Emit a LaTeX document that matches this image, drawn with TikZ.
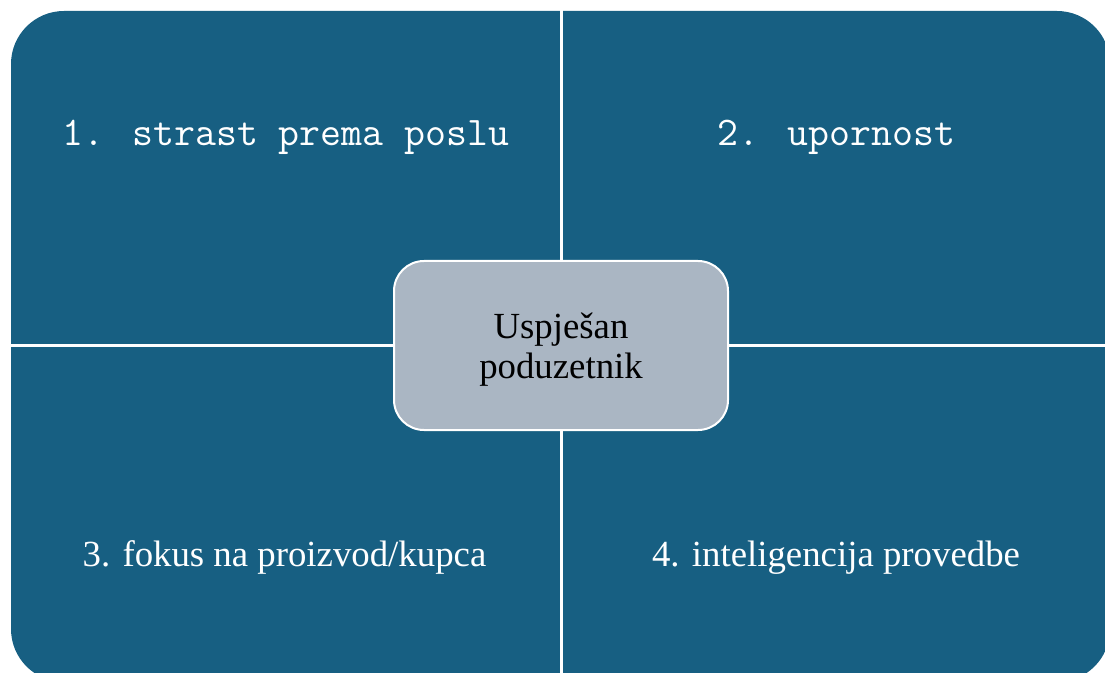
\documentclass[tikz,border=0pt]{standalone}
\usepackage{fontspec}
\setmainfont{Liberation Serif}
\definecolor{quadblue}{RGB}{23,95,130}
\definecolor{centerfill}{RGB}{170,182,195}
\begin{document}
\begin{tikzpicture}[x=0.75pt,y=-0.75pt,
  quad/.style={fill=quadblue},
  gap/.style={draw=white,line width=2.25pt},
  monotext/.style={text=white,font=\ttfamily\fontsize{30.5}{33}\selectfont,anchor=base,inner sep=0pt},
  serifqtext/.style={text=white,font=\fontsize{27.6}{30}\selectfont,anchor=base,inner sep=0pt},
  centerbox/.style={fill=centerfill,draw=white,line width=1.5pt,rounded corners=22.5pt,
    minimum width=250.5pt,minimum height=126.75pt,inner sep=0pt},
  centertext/.style={text=black,font=\fontsize{27.6}{30}\selectfont,align=center,inner sep=0pt}
]
\useasboundingbox (0,0) rectangle (1105,673);
% outer shape
\fill[quad,rounded corners=39.75pt] (11,11) rectangle (1110,682);
% dividers
\coordinate (vt) at (561,0);
\coordinate (vb) at (561,690);
\coordinate (hl) at (0,345);
\coordinate (hr) at (1120,345);
\draw[gap] (vt) -- (vb);
\draw[gap] (hl) -- (hr);
% center
\node[centerbox] (c) at (561,345.5) {};
\node[centertext] (ct) at (561,349.5) {Uspješan\\poduzetnik};
% quadrant texts
\node[monotext] (q1) at (286,145.5) {1. strast prema poslu};
\node[monotext] (q2) at (836.5,145.5) {2. upornost};
\node[serifqtext] (q3) at (284.5,566) {3. fokus na proizvod/kupca};
\node[serifqtext] (q4) at (836,566) {4. inteligencija provedbe};
\end{tikzpicture}
\end{document}
